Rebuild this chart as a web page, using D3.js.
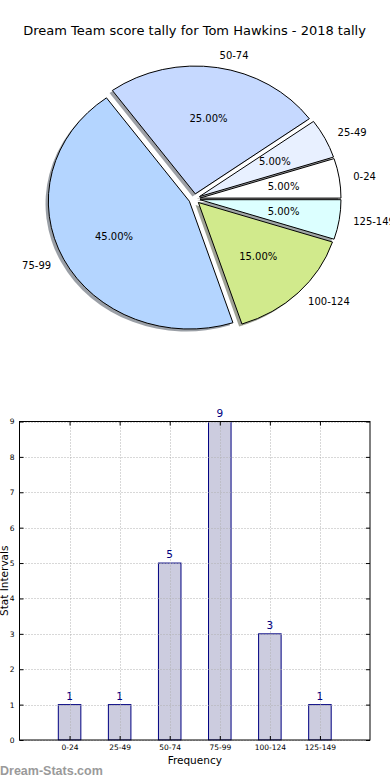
<!DOCTYPE html>
<html>
<head>
<meta charset="utf-8">
<script src="https://cdn.jsdelivr.net/npm/d3@7"></script>
<style>
  html, body { margin: 0; padding: 0; background: #fff; }
  svg { display: block; font-family: "DejaVu Sans", sans-serif; }
</style>
</head>
<body>
<svg id="chart" width="390" height="780"></svg>
<script>
const title = "Dream Team score tally for Tom Hawkins - 2018 tally";
const categories = ["0-24", "25-49", "50-74", "75-99", "100-124", "125-149"];
const counts = [1, 1, 5, 9, 3, 1];
const sliceColors = ["#ffffff", "#e8f0ff", "#c6d9ff", "#b4d5ff", "#d1ea8c", "#dcffff"];
const yTicks = [0, 1, 2, 3, 4, 5, 6, 7, 8, 9];
const xLabel = "Frequency";
const yLabel = "Stat Intervals";
const watermark = "Dream-Stats.com";

(function () {
const svg = d3.select("#chart");

// ---------- Title ----------
svg.append("text")
  .attr("x", 194.5).attr("y", 30).attr("dy", "0.35em")
  .attr("text-anchor", "middle")
  .attr("font-size", 13)
  .attr("fill", "#000")
  .text(title);

// ---------- Pie (elliptical, matplotlib-like, exploded + shadow) ----------
const cx = 194.4, cy = 198.9, rx = 141, ry = 127.8;
const explode = 0.04;
const total = d3.sum(counts);

const pie = d3.pie().sort(null).value(d => d)
  .startAngle(Math.PI / 2).endAngle(Math.PI / 2 - 2 * Math.PI);
const arcs = pie(counts);
const arcGen = d3.arc().innerRadius(0).outerRadius(1);

const pieG = svg.append("g");
const shadowG = pieG.append("g");
const wedgeG = pieG.append("g");
const textG = pieG.append("g");

arcs.forEach((a, i) => {
  const am = (a.startAngle + a.endAngle) / 2;
  const ex = cx + explode * rx * Math.sin(am);
  const ey = cy - explode * ry * Math.cos(am);
  const path = arcGen({startAngle: a.startAngle, endAngle: a.endAngle});
  const c = d3.rgb(sliceColors[i]);
  const sc = d3.rgb(c.r * 0.3, c.g * 0.3, c.b * 0.3);
  shadowG.append("path")
    .attr("d", path)
    .attr("transform", `translate(${ex - 0.02 * rx},${ey + 0.02 * ry}) scale(${rx},${ry})`)
    .attr("fill", sc.toString())
    .attr("fill-opacity", 0.5)
    .attr("stroke", "none");
  wedgeG.append("path")
    .attr("d", path)
    .attr("transform", `translate(${ex},${ey}) scale(${rx},${ry})`)
    .attr("fill", sliceColors[i])
    .attr("stroke", "#000")
    .attr("stroke-width", 1)
    .attr("vector-effect", "non-scaling-stroke");
  const lx = ex + 1.1 * rx * Math.sin(am);
  const ly = ey - 1.1 * ry * Math.cos(am);
  textG.append("text")
    .attr("x", lx).attr("y", ly).attr("dy", "0.35em")
    .attr("text-anchor", lx > cx ? "start" : "end")
    .attr("font-size", 10)
    .text(categories[i]);
  const px = ex + 0.6 * rx * Math.sin(am);
  const py = ey - 0.6 * ry * Math.cos(am);
  textG.append("text")
    .attr("x", px).attr("y", py).attr("dy", "0.35em")
    .attr("text-anchor", "middle")
    .attr("font-size", 10)
    .text((counts[i] / total * 100).toFixed(2) + "%");
});

// ---------- Bar chart ----------
const left = 19.5, right = 370, plotTop = 421.5, plotBottom = 740;
const x = d3.scaleLinear().domain([-1, 6]).range([left, right]);
const y = d3.scaleLinear().domain([0, 9]).range([plotBottom, plotTop]);
const barW = 0.45;

const barG = svg.append("g");

barG.selectAll("rect.bar").data(counts).enter().append("rect")
  .attr("class", "bar")
  .attr("x", (d, i) => x(i - barW / 2))
  .attr("width", x(barW) - x(0))
  .attr("y", d => y(d))
  .attr("height", d => y(0) - y(d))
  .attr("fill", "#ccccdf")
  .attr("stroke", "#000080")
  .attr("stroke-width", 1);

const gridG = barG.append("g")
  .attr("stroke", "#b0b0b0").attr("stroke-width", 1)
  .attr("stroke-dasharray", "1,2");
yTicks.forEach(t => {
  gridG.append("line").attr("x1", left).attr("x2", right)
    .attr("y1", Math.round(y(t)) + 0.5).attr("y2", Math.round(y(t)) + 0.5);
});
categories.forEach((c, i) => {
  gridG.append("line").attr("y1", plotTop).attr("y2", plotBottom)
    .attr("x1", Math.round(x(i)) + 0.5).attr("x2", Math.round(x(i)) + 0.5);
});

const yAxis = d3.axisLeft(y).tickValues(yTicks).tickSize(-4).tickPadding(5).tickFormat(d3.format("d"));
const yAxisG = barG.append("g").attr("transform", `translate(${left},0)`).call(yAxis);
const yAxisR = d3.axisRight(y).tickValues(yTicks).tickSize(-4).tickFormat("");
const yAxisRG = barG.append("g").attr("transform", `translate(${right},0)`).call(yAxisR);

const xAxis = d3.axisBottom(x).tickValues(d3.range(categories.length)).tickSize(-4).tickPadding(4.5)
  .tickFormat(i => categories[i]);
const xAxisG = barG.append("g").attr("transform", `translate(0,${plotBottom})`).call(xAxis);
const xAxisT = d3.axisTop(x).tickValues(d3.range(categories.length)).tickSize(-4).tickFormat("");
const xAxisTG = barG.append("g").attr("transform", `translate(0,${plotTop})`).call(xAxisT);

[yAxisG, yAxisRG, xAxisG, xAxisTG].forEach(g => {
  g.select(".domain").remove();
  g.selectAll(".tick line").attr("stroke", "#000").attr("stroke-width", 1);
  g.selectAll(".tick text").attr("font-family", "DejaVu Sans, sans-serif")
    .attr("font-size", 7.5).attr("fill", "#000");
});

barG.append("rect")
  .attr("x", left).attr("y", plotTop)
  .attr("width", right - left).attr("height", plotBottom - plotTop)
  .attr("fill", "none").attr("stroke", "#000").attr("stroke-width", 1);

barG.selectAll("text.val").data(counts).enter().append("text")
  .attr("class", "val")
  .attr("x", (d, i) => x(i))
  .attr("y", d => y(d) - 5)
  .attr("text-anchor", "middle")
  .attr("font-size", 10.5)
  .attr("fill", "#000080")
  .text(d => d);

svg.append("text")
  .attr("x", (left + right) / 2).attr("y", 764)
  .attr("text-anchor", "middle").attr("font-size", 10.5)
  .text(xLabel);
svg.append("text")
  .attr("transform", `translate(8,${(plotTop + plotBottom) / 2}) rotate(-90)`)
  .attr("text-anchor", "middle").attr("font-size", 10.5)
  .text(yLabel);

svg.append("text")
  .attr("x", 0).attr("y", 775)
  .attr("font-family", "Liberation Sans, Arial, sans-serif")
  .attr("font-weight", "bold")
  .attr("font-size", 12.5)
  .attr("fill", "#9a9a9a")
  .text(watermark);
})();
</script>
</body>
</html>
